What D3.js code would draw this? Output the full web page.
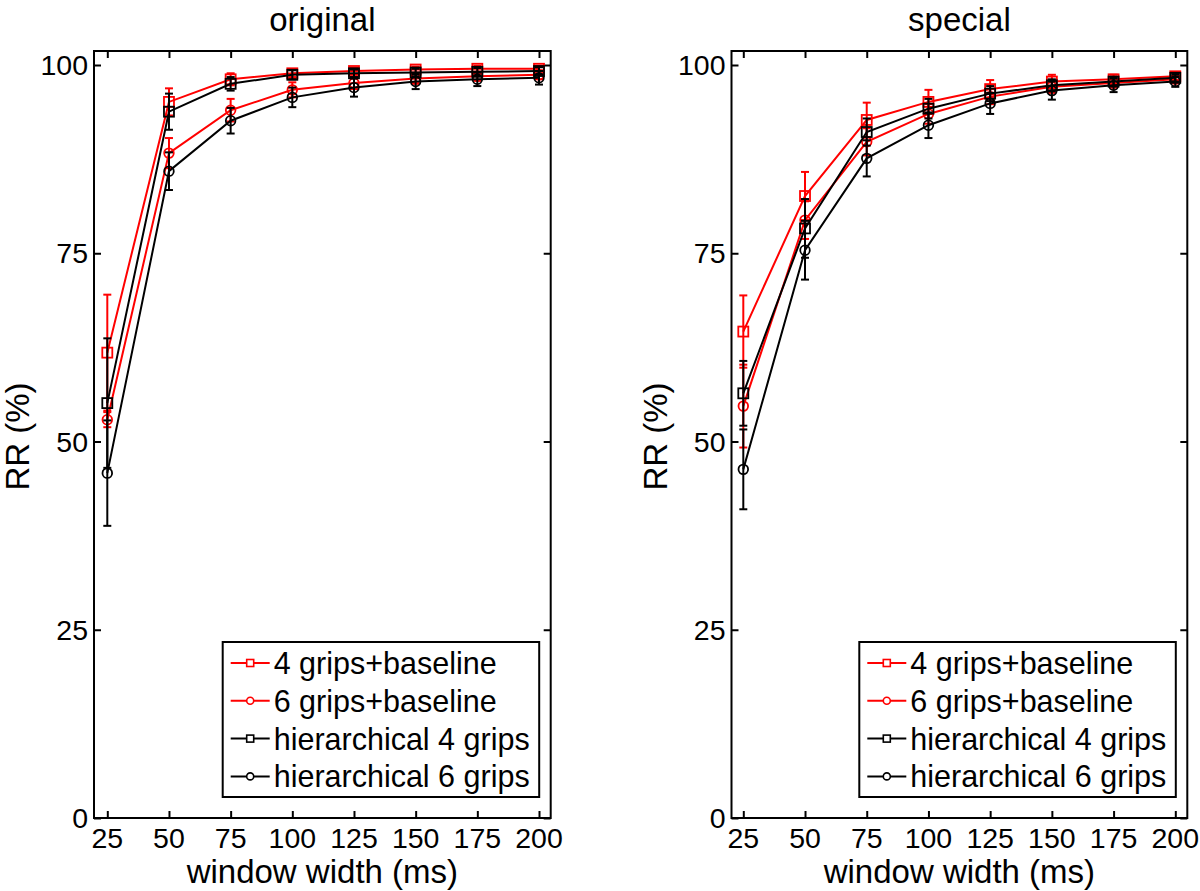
<!DOCTYPE html>
<html><head><meta charset="utf-8">
<script src="https://cdn.jsdelivr.net/npm/d3@7"></script>
<style>
html,body{margin:0;padding:0;background:#fff;}
svg{display:block;font-family:"Liberation Sans",Arial,sans-serif;}
</style></head>
<body><svg id="c" width="1200" height="891"></svg>
<script>
const windows = [25, 50, 75, 100, 125, 150, 175, 200];
const xTicks = [25, 50, 75, 100, 125, 150, 175, 200];
const yTicks = [0, 25, 50, 75, 100];
const seriesNames = ["4 grips+baseline", "6 grips+baseline", "hierarchical 4 grips", "hierarchical 6 grips"];
const seriesColors = ["#ff0000", "#ff0000", "#000000", "#000000"];
const seriesMarkers = ["square", "circle", "square", "circle"];
const panelTitles = ["original", "special"];

// original
const orig4Base = [61.8, 95.1, 98.1, 98.9, 99.2, 99.4, 99.5, 99.5];
const orig6Base = [52.9, 88.3, 94.0, 96.7, 97.6, 98.2, 98.5, 98.7];
const origH4 = [55.1, 93.8, 97.5, 98.7, 98.9, 99.0, 99.1, 99.2];
const origH6 = [45.8, 85.9, 92.6, 95.7, 97.0, 97.8, 98.1, 98.3];
const orig4BaseErr = [7.7, 1.8, 0.8, 0.5, 0.4, 0.4, 0.4, 0.4];
const orig6BaseErr = [1.0, 2.0, 1.5, 1.0, 0.8, 0.7, 0.6, 0.6];
const origH4Err = [8.6, 2.4, 0.9, 0.6, 0.5, 0.5, 0.5, 0.5];
const origH6Err = [7.0, 2.5, 1.7, 1.3, 1.2, 1.0, 0.9, 0.9];
// special
const spec4Base = [64.6, 82.6, 92.7, 95.1, 96.8, 97.8, 98.1, 98.5];
const spec6Base = [54.7, 79.4, 89.8, 93.5, 95.8, 97.1, 97.6, 98.1];
const specH4 = [56.4, 78.3, 91.1, 94.2, 96.2, 97.3, 97.8, 98.3];
const specH6 = [46.3, 75.4, 87.6, 92.0, 94.9, 96.6, 97.3, 97.8];
const spec4BaseErr = [4.8, 3.2, 2.3, 1.6, 1.2, 0.9, 0.6, 0.5];
const spec6BaseErr = [5.5, 2.5, 1.8, 1.3, 1.0, 0.8, 0.6, 0.5];
const specH4Err = [4.3, 3.9, 1.8, 1.3, 1.0, 0.8, 0.6, 0.5];
const specH6Err = [5.3, 3.9, 2.4, 1.7, 1.4, 1.2, 0.9, 0.7];

const panels = [
  {title: panelTitles[0], vals: [orig4Base, orig6Base, origH4, origH6], errs: [orig4BaseErr, orig6BaseErr, origH4Err, origH6Err],
   boxL: 94, boxR: 550.7, x0: 107.3, x1: 539},
  {title: panelTitles[1], vals: [spec4Base, spec6Base, specH4, specH6], errs: [spec4BaseErr, spec6BaseErr, specH4Err, specH6Err],
   boxL: 731.5, boxR: 1187.3, x0: 743.3, x1: 1175.3}
];
const boxTop = 51, boxBottom = 818;
const y = d3.scaleLinear().domain([0, 100]).range([818, 65]);
const svg = d3.select("#c");
const tickLen = 7;

panels.forEach(p => {
  const x = d3.scaleLinear().domain([25, 200]).range([p.x0, p.x1]);
  const g = svg.append("g");
  // box
  g.append("rect").attr("x", p.boxL).attr("y", boxTop).attr("width", p.boxR - p.boxL).attr("height", boxBottom - boxTop)
    .attr("fill", "none").attr("stroke", "#000").attr("stroke-width", 2);
  // axes with inward ticks
  const xb = g.append("g").attr("transform", `translate(0,${boxBottom})`)
    .call(d3.axisTop(x).tickValues(xTicks).tickSize(tickLen).tickFormat(""));
  const xt = g.append("g").attr("transform", `translate(0,${boxTop})`)
    .call(d3.axisBottom(x).tickValues(xTicks).tickSize(tickLen).tickFormat(""));
  const yl = g.append("g").attr("transform", `translate(${p.boxL},0)`)
    .call(d3.axisRight(y).tickValues(yTicks).tickSize(tickLen).tickFormat(""));
  const yr = g.append("g").attr("transform", `translate(${p.boxR},0)`)
    .call(d3.axisLeft(y).tickValues(yTicks).tickSize(tickLen).tickFormat(""));
  [xb, xt, yl, yr].forEach(a => { a.select(".domain").remove(); a.selectAll("line").attr("stroke", "#000").attr("stroke-width", 2); });
  // tick labels
  g.selectAll(".xl").data(xTicks).enter().append("text")
    .attr("x", d => x(d)).attr("y", 848).attr("text-anchor", "middle").attr("font-size", 28.5).text(d => d);
  g.selectAll(".yl").data(yTicks).enter().append("text")
    .attr("x", p.boxL - 6).attr("y", d => y(d) + 10).attr("text-anchor", "end").attr("font-size", 28.5).text(d => d);
  // labels
  const cx = (p.boxL + p.boxR) / 2;
  g.append("text").attr("x", cx).attr("y", 883).attr("text-anchor", "middle").attr("font-size", 33).text("window width (ms)");
  g.append("text").attr("x", cx).attr("y", 31).attr("text-anchor", "middle").attr("font-size", 33).text(p.title);
  g.append("text").attr("transform", `translate(${p.boxL - 65},${(boxTop + boxBottom) / 2 + 2}) rotate(-90)`)
    .attr("text-anchor", "middle").attr("font-size", 33).text("RR (%)");

  // series
  const line = d3.line().x((d, i) => x(windows[i])).y(d => y(d));
  p.vals.forEach((vals, s) => {
    const col = seriesColors[s];
    const sg = g.append("g");
    // error bars
    windows.forEach((w, i) => {
      const e = p.errs[s][i];
      const xv = x(w), ya = y(vals[i] + e), yb = y(vals[i] - e);
      sg.append("line").attr("x1", xv).attr("x2", xv).attr("y1", ya).attr("y2", yb).attr("stroke", col).attr("stroke-width", 2);
      [ya, yb].forEach(yy => sg.append("line").attr("x1", xv - 4).attr("x2", xv + 4).attr("y1", yy).attr("y2", yy).attr("stroke", col).attr("stroke-width", 2));
    });
    sg.append("path").attr("d", line(vals)).attr("fill", "none").attr("stroke", col).attr("stroke-width", 2);
    vals.forEach((v, i) => {
      if (seriesMarkers[s] === "square") {
        sg.append("rect").attr("x", x(windows[i]) - 5).attr("y", y(v) - 5).attr("width", 10).attr("height", 10)
          .attr("fill", "none").attr("stroke", col).attr("stroke-width", 1.8);
      } else {
        sg.append("circle").attr("cx", x(windows[i])).attr("cy", y(v)).attr("r", 4.8)
          .attr("fill", "none").attr("stroke", col).attr("stroke-width", 1.8);
      }
    });
  });

  // legend
  const lx = p.boxR - 328, ly = 642, lw = 316.5, lh = 155;
  const lg = g.append("g");
  lg.append("rect").attr("x", lx).attr("y", ly).attr("width", lw).attr("height", lh).attr("fill", "#fff").attr("stroke", "#000").attr("stroke-width", 2);
  seriesNames.forEach((n, s) => {
    const yy = ly + 21 + s * 37.8;
    const col = seriesColors[s];
    lg.append("line").attr("x1", lx + 8).attr("x2", lx + 47).attr("y1", yy).attr("y2", yy).attr("stroke", col).attr("stroke-width", 2);
    if (seriesMarkers[s] === "square") {
      lg.append("rect").attr("x", lx + 27.5 - 3.5).attr("y", yy - 3.5).attr("width", 7).attr("height", 7).attr("fill", "#fff").attr("stroke", col).attr("stroke-width", 1.6);
    } else {
      lg.append("circle").attr("cx", lx + 27.5).attr("cy", yy).attr("r", 3.5).attr("fill", "#fff").attr("stroke", col).attr("stroke-width", 1.6);
    }
    lg.append("text").attr("x", lx + 51).attr("y", yy + 11).attr("font-size", 30.5).text(n);
  });
});
</script></body></html>
